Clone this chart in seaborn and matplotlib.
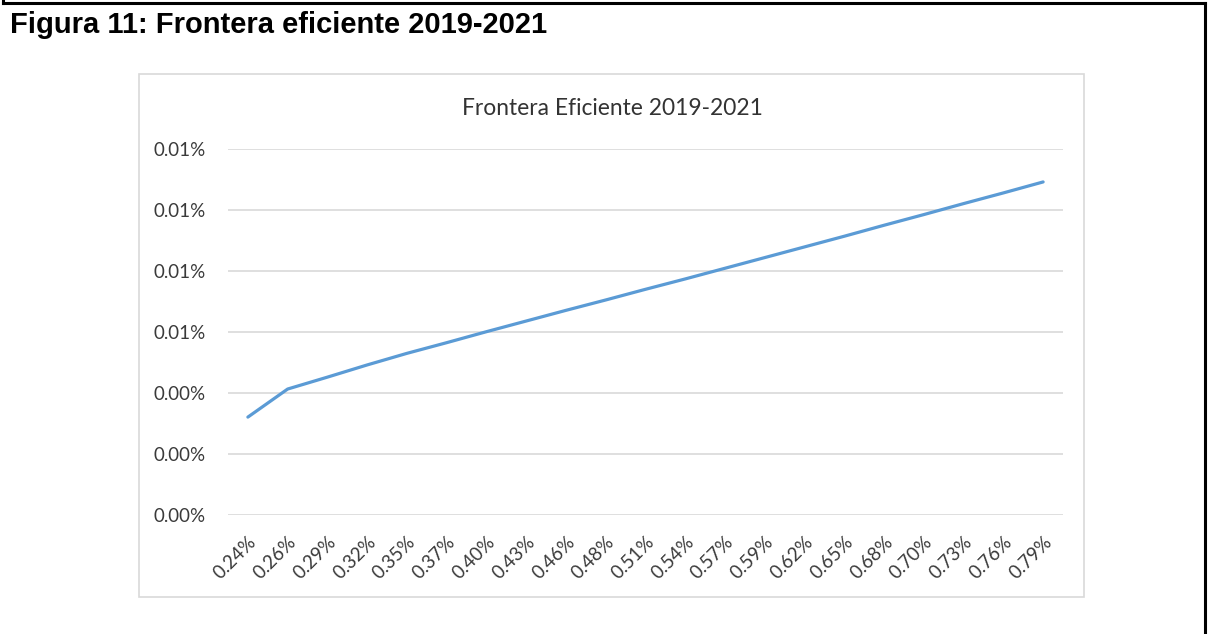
import numpy as np
import pandas as pd
import seaborn as sns
import matplotlib
matplotlib.use("Agg")
import matplotlib.pyplot as plt
from matplotlib.patches import Rectangle
from matplotlib.lines import Line2D
from matplotlib.ticker import FixedLocator, FuncFormatter

# Risk levels (x categories) and expected return of the efficient frontier (in %)
riesgo = ["0.24%", "0.26%", "0.29%", "0.32%", "0.35%", "0.37%", "0.40%",
          "0.43%", "0.46%", "0.48%", "0.51%", "0.54%", "0.57%", "0.59%",
          "0.62%", "0.65%", "0.68%", "0.70%", "0.73%", "0.76%", "0.79%"]
retorno = [0.00321, 0.00413, 0.00452, 0.00492, 0.00530, 0.00565, 0.00601,
           0.00636, 0.00671, 0.00705, 0.00740, 0.00774, 0.00809, 0.00844,
           0.00879, 0.00914, 0.00950, 0.00985, 0.01021, 0.01056, 0.01092]
y_ticks = [0.000, 0.002, 0.004, 0.006, 0.008, 0.010, 0.012]

sns.set_theme(style="white")
plt.rcParams["font.family"] = ["Lato", "DejaVu Sans"]

W, H = 1208, 634
fig = plt.figure(figsize=(W / 100, H / 100), dpi=100)
fig.patch.set_facecolor("white")

def fx(px):
    return px / W

def fy(py):
    return 1 - py / H

# Outer frame of the figure (left, top, right)
for xs, ys in [((3, 3), (0, 3)), ((3, 1205), (3, 3)), ((1205, 1205), (3, 634))]:
    fig.add_artist(Line2D([fx(xs[0]), fx(xs[1])], [fy(ys[0]), fy(ys[1])],
                          color="black", lw=2.2, solid_capstyle="projecting"))

fig.text(fx(10), fy(33), "Figura 11: Frontera eficiente 2019-2021",
         family=["Liberation Sans", "DejaVu Sans"], weight="bold",
         fontsize=21, ha="left", va="baseline", color="black")

# Chart area border
fig.add_artist(Rectangle((fx(139), fy(597)), fx(1084) - fx(139), fy(74) - fy(597),
                         fill=False, edgecolor="#d9d9d9", lw=1.2))

ax = fig.add_axes([fx(228), fy(515), fx(1063) - fx(228), fy(149) - fy(515)])
ax.set_facecolor("none")

n = len(retorno)
df = pd.DataFrame({"pos": np.arange(n), "retorno": retorno})
sns.lineplot(data=df, x="pos", y="retorno", ax=ax, color="#5B9BD5",
             linewidth=2.3, solid_capstyle="round")

ax.set_xlim(-0.5, n - 0.5)
ax.set_ylim(y_ticks[0], y_ticks[-1])
ax.yaxis.set_major_locator(FixedLocator(y_ticks))
ax.yaxis.set_major_formatter(FuncFormatter(lambda v, p: f"{v:.2f}%"))
ax.set_xticks(np.arange(n))
ax.set_xticklabels(riesgo[:n], rotation=45, ha="right", va="top",
                   rotation_mode="anchor")
ax.grid(axis="y", color="#d9d9d9", linewidth=1.2)
ax.grid(axis="x", visible=False)
for s in ax.spines.values():
    s.set_visible(False)
ax.tick_params(axis="both", length=0, labelsize=13.5, colors="#3a3a3a")
ax.tick_params(axis="y", pad=16)
ax.tick_params(axis="x", pad=13)
ax.set_xlabel("")
ax.set_ylabel("")

fig.text(fx(612), fy(115), "Frontera Eficiente 2019-2021", ha="center",
         va="baseline", fontsize=16.4, color="#333333")

fig.savefig("out.png", dpi=100, facecolor="white")
